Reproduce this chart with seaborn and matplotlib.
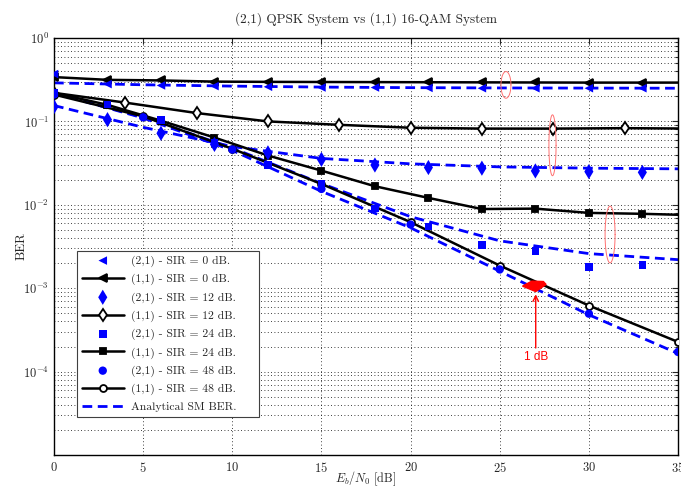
import numpy as np
import matplotlib
matplotlib.use("Agg")
import matplotlib.pyplot as plt
import seaborn as sns

# Eb/N0 grids [dB]
snr_sim3 = [0, 3, 6, 9, 12, 15, 18, 21, 24, 27, 30, 33, 36]
snr_mk3 = [0, 3, 6, 9, 12, 15, 18, 21, 24, 27, 30, 33]
snr_sim4 = [0, 4, 8, 12, 16, 20, 24, 28, 32, 36]
snr_sim5 = [0, 5, 10, 15, 20, 25, 30, 35]

# (1,1) 16-QAM simulated BER
ber_11_sir0 = [0.34, 0.315, 0.31, 0.30, 0.298, 0.297, 0.296, 0.295, 0.294, 0.293, 0.292, 0.292, 0.292]
ber_11_sir12 = [0.22, 0.168, 0.126, 0.10, 0.091, 0.084, 0.082, 0.082, 0.083, 0.082]
ber_11_sir24 = [0.22, 0.158, 0.102, 0.064, 0.039, 0.0257, 0.0167, 0.0121, 0.0089, 0.009, 0.008, 0.0078, 0.0075]
ber_11_sir48 = [0.21, 0.115, 0.047, 0.0178, 0.0062, 0.00187, 0.00062, 0.000227]

# (2,1) QPSK simulated BER (markers only)
ber_21_sir0 = [0.37, 0.28, 0.27, 0.265, 0.26, 0.255, 0.255, 0.252, 0.25, 0.25, 0.25, 0.25]
ber_21_sir12 = [0.15, 0.105, 0.072, 0.053, 0.042, 0.035, 0.030, 0.028, 0.0275, 0.0255, 0.025, 0.0245]
ber_21_sir24 = [0.22, 0.16, 0.104, 0.055, 0.030, 0.018, 0.009, 0.0055, 0.0033, 0.0028, 0.0018, 0.0019]
ber_21_sir48 = [0.21, 0.112, 0.046, 0.0155, 0.0058, 0.00168, 0.000495, 0.000172]

# analytical SM BER (dashed)
ana_sir0 = [0.29, 0.275, 0.265, 0.258, 0.254, 0.252, 0.251, 0.25]
ana_sir12 = [0.155, 0.085, 0.05, 0.036, 0.031, 0.0285, 0.0275, 0.027]
ana_sir24 = [0.22, 0.112, 0.048, 0.018, 0.0072, 0.0037, 0.0026, 0.0022]
ana_sir48 = [0.22, 0.11, 0.045, 0.0145, 0.0053, 0.0016, 0.00048, 0.000165]

sns.set_style("white", {"xtick.direction": "in", "ytick.direction": "in"})
plt.rcParams["mathtext.fontset"] = "cm"
plt.rcParams["font.family"] = ["DejaVu Sans"]

fig = plt.figure(figsize=(6.81, 4.88), dpi=100)
ax = fig.add_axes([0.0793, 0.0676, 0.9163, 0.8545])

blue = "#0000ff"
dash = (0, (3.5, 2))

# analytical curves
for i, ana in enumerate([ana_sir0, ana_sir12, ana_sir24, ana_sir48]):
    sns.lineplot(x=snr_sim5, y=ana, ax=ax, color=blue, linewidth=2,
                 linestyle=dash, label="Analytical SM BER." if i == 0 else None, zorder=2)

# (1,1) simulated curves
blk = dict(color="black", linewidth=1.8, markeredgecolor="black", markeredgewidth=1.3, zorder=3)
sns.lineplot(x=snr_sim3, y=ber_11_sir0, ax=ax, marker="<", markersize=5.5,
             markerfacecolor="black", label="(1,1) - SIR = 0 dB.", **blk)
sns.lineplot(x=snr_sim4, y=ber_11_sir12, ax=ax, marker="d", markersize=6,
             markerfacecolor="white", label="(1,1) - SIR = 12 dB.", **blk)
sns.lineplot(x=snr_sim3, y=ber_11_sir24, ax=ax, marker="s", markersize=5,
             markerfacecolor="black", label="(1,1) - SIR = 24 dB.", **blk)
sns.lineplot(x=snr_sim5, y=ber_11_sir48, ax=ax, marker="o", markersize=5,
             markerfacecolor="white", label="(1,1) - SIR = 48 dB.", **blk)

# (2,1) simulated markers
sns.scatterplot(x=snr_mk3, y=ber_21_sir0, ax=ax, marker="<", s=38, color=blue,
                edgecolor="none", label="(2,1) - SIR = 0 dB.", zorder=4)
sns.scatterplot(x=snr_mk3, y=ber_21_sir12, ax=ax, marker="d", s=60, color=blue,
                edgecolor="none", label="(2,1) - SIR = 12 dB.", zorder=4)
sns.scatterplot(x=snr_mk3, y=ber_21_sir24, ax=ax, marker="s", s=30, color=blue,
                edgecolor="none", label="(2,1) - SIR = 24 dB.", zorder=4)
sns.scatterplot(x=snr_sim5, y=ber_21_sir48, ax=ax, marker="o", s=36, color=blue,
                edgecolor="none", label="(2,1) - SIR = 48 dB.", zorder=4)

ax.set_yscale("log")
ax.set_xlim(0, 35)
ax.set_ylim(1e-5, 1)
ax.set_xticks(range(0, 36, 5))
ax.set_xticklabels([r"$\mathsf{%d}$" % v for v in range(0, 36, 5)], fontsize=9)
ax.set_yticks([1e-4, 1e-3, 1e-2, 1e-1, 1])
ax.set_yticklabels([r"$\mathsf{10^{%d}}$" % e for e in [-4, -3, -2, -1, 0]], fontsize=9)
ax.yaxis.set_minor_locator(matplotlib.ticker.LogLocator(base=10, subs=np.arange(2, 10)))
ax.yaxis.set_minor_formatter(matplotlib.ticker.NullFormatter())
ax.tick_params(which="both", direction="in", top=True, right=True, length=4, width=0.8)
ax.tick_params(axis="x", pad=4)
ax.tick_params(which="minor", length=2)
grid_ls = (0, (1, 3))
ax.grid(True, which="major", axis="both", linestyle=grid_ls, color="black", linewidth=0.6)
ax.grid(True, which="minor", axis="y", linestyle=grid_ls, color="black", linewidth=0.6)
for s in ax.spines.values():
    s.set_color("black")
    s.set_linewidth(1.0)

ax.set_title("(2,1) QPSK System vs (1,1) 16-QAM System", fontfamily="cmr10", fontsize=9.5, pad=11)
ax.set_xlabel(r"$E_b/N_0$ [dB]", fontfamily="cmr10", fontsize=8.8, labelpad=-4)
ax.set_ylabel("BER", fontfamily="cmr10", fontsize=9.5, labelpad=-3)

# red annotations
t = np.linspace(0, 2 * np.pi, 100)
for cx, cy, a, b in [(25.35, -0.562, 0.28, 0.16), (27.96, -1.286, 0.2, 0.365), (31.19, -2.356, 0.28, 0.34)]:
    ax.plot(cx + a * np.cos(t), 10 ** (cy + b * np.sin(t)), color="#ff7070", linewidth=0.7, zorder=5)
ax.fill([26.28, 26.8, 27.45, 27.6, 27.02], [10 ** -2.975, 10 ** -2.915, 10 ** -2.92, 10 ** -2.955, 10 ** -3.04],
        color="red", zorder=5)
ax.annotate("", xy=(27.02, 10 ** -3.04), xytext=(27.02, 10 ** -3.75),
            arrowprops=dict(arrowstyle="->", color="red", lw=1.0), zorder=5)
ax.text(27.02, 10 ** -3.83, "1 dB", color="red", fontsize=8.5, ha="center", va="center",
        fontfamily="Liberation Sans")

order = ["(2,1) - SIR = 0 dB.", "(1,1) - SIR = 0 dB.", "(2,1) - SIR = 12 dB.", "(1,1) - SIR = 12 dB.",
         "(2,1) - SIR = 24 dB.", "(1,1) - SIR = 24 dB.", "(2,1) - SIR = 48 dB.", "(1,1) - SIR = 48 dB.",
         "Analytical SM BER."]
handles, labels = ax.get_legend_handles_labels()
hmap = dict(zip(labels, handles))
leg = ax.legend([hmap[k] for k in order], order, loc="lower left",
                bbox_to_anchor=(0.037, 0.091, 0.292, 0.4), mode="expand",
                prop={"family": "cmr10", "size": 8.4}, frameon=True, fancybox=False, framealpha=1,
                edgecolor="#404040", handlelength=3.6, labelspacing=0.6, borderpad=0.4,
                handletextpad=0.6, borderaxespad=0)
leg.get_frame().set_linewidth(0.8)

fig.savefig("out.png", dpi=100)
